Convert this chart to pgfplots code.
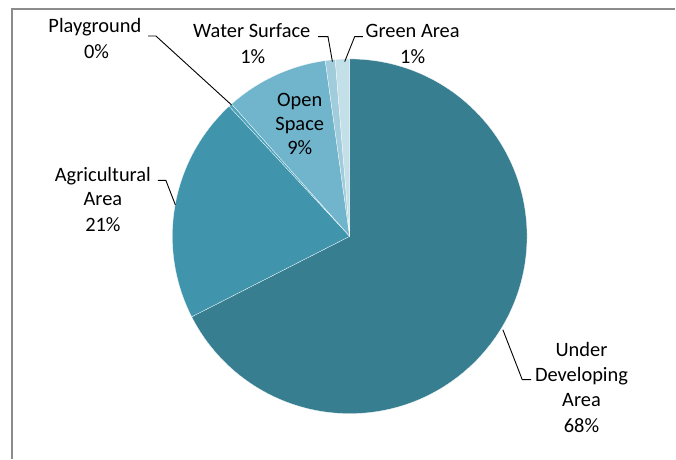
\documentclass[border=0pt]{standalone}
\usepackage{pgfplots}
\usepackage{pgfplotstable}
\pgfplotsset{compat=1.18}
\usepackage{fontspec}
\setmainfont{Carlito}
\definecolor{cA}{HTML}{377E91}
\definecolor{cB}{HTML}{4094AC}
\definecolor{cC}{HTML}{4DA3BB}
\definecolor{cD}{HTML}{71B5CD}
\definecolor{cE}{HTML}{A1CCDC}
\definecolor{cF}{HTML}{C3DFE8}
\definecolor{frame}{HTML}{8C8C8C}
\pgfplotstableread{
name value col
UnderDeveloping 67.5 cA
Agricultural 20.6 cB
Playground 0.3 cC
OpenSpace 9.4 cD
WaterSurface 0.9 cE
GreenArea 1.3 cF
}\piedata
\newcommand{\lbl}[3]{\node[anchor=base,inner sep=0pt,font=\fontsize{20.5}{25}\selectfont] at (axis cs:#1,#2) {#3};}
\begin{document}
\begin{tikzpicture}
\begin{axis}[
  width=676bp, height=459bp, scale only axis,
  xmin=0, xmax=676, ymin=0, ymax=459, y dir=reverse,
  hide axis, clip=false]
\path (axis cs:0,0) rectangle (axis cs:676,459);
\def\cum{90}
\pgfplotsforeachungrouped \i in {0,...,5}{%
  \pgfplotstablegetelem{\i}{value}\of\piedata \let\v\pgfplotsretval
  \pgfplotstablegetelem{\i}{col}\of\piedata \let\c\pgfplotsretval
  \pgfmathsetmacro\endang{\cum-3.6*\v}%
  \edef\temp{\noexpand\fill[\c, draw=white, line width=0.25pt] (axis cs:350,236.5) -- ++(\cum:177.5bp) arc[start angle=\cum, end angle=\endang, radius=177.5bp] -- cycle;}%
  \temp
  \global\let\cum\endang
}
% frame
\draw[frame, line width=1.2bp] (axis cs:12,459) -- (axis cs:12,9) -- (axis cs:676,9);
% leader lines
\draw[black, line width=0.9bp] (axis cs:148.3,36) -- (axis cs:156,36) -- (axis cs:231.7,105);
\draw[black, line width=0.9bp] (axis cs:318.3,36.7) -- (axis cs:328.3,36.7) -- (axis cs:332.7,61.7);
\draw[black, line width=0.9bp] (axis cs:363.3,36.7) -- (axis cs:355,36.7) -- (axis cs:345,61.7);
\draw[black, line width=0.9bp] (axis cs:158,180.5) -- (axis cs:166,180.5) -- (axis cs:175.5,205);
\draw[black, line width=0.9bp] (axis cs:503.3,330) -- (axis cs:522.7,380) -- (axis cs:531.7,380);
% labels
\lbl{95}{32.7}{Playground}
\lbl{96.7}{58.4}{0\%}
\lbl{252}{37.7}{Water Surface}
\lbl{253}{63.4}{1\%}
\lbl{413}{37.7}{Green Area}
\lbl{413}{63.4}{1\%}
\lbl{300}{106.7}{Open}
\lbl{300}{130.7}{Space}
\lbl{300}{154.7}{9\%}
\lbl{103}{181.7}{Agricultural}
\lbl{103}{206}{Area}
\lbl{103}{231.7}{21\%}
\lbl{582}{356.7}{Under}
\lbl{582}{381.7}{Developing}
\lbl{582}{406.7}{Area}
\lbl{582}{432.7}{68\%}
\end{axis}
\end{tikzpicture}
\end{document}
